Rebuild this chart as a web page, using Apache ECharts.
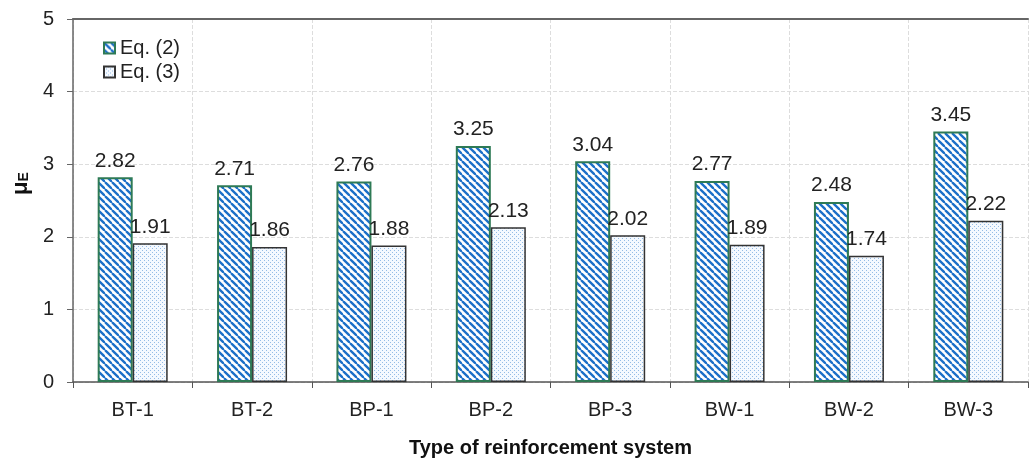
<!DOCTYPE html>
<html>
<head>
<meta charset="utf-8">
<script src="https://cdn.jsdelivr.net/npm/echarts@6/dist/echarts.min.js"></script>
<style>html,body{margin:0;padding:0;background:#fff}#c{width:1029px;height:459px}</style>
</head>
<body>
<div id="c"></div>
<script>
const categories = ['BT-1','BT-2','BP-1','BP-2','BP-3','BW-1','BW-2','BW-3'];
const eq2Values = [2.82,2.71,2.76,3.25,3.04,2.77,2.48,3.45];
const eq3Values = [1.91,1.86,1.88,2.13,2.02,1.89,1.74,2.22];
const seriesNames = ['Eq. (2)','Eq. (3)'];
const yTicks = [0,1,2,3,4,5];

function hatchPattern(){
  const s=7, c=document.createElement('canvas');
  c.width=s; c.height=s;
  const g=c.getContext('2d');
  g.fillStyle='#ffffff'; g.fillRect(0,0,s,s);
  g.strokeStyle='#1b6fc8'; g.lineWidth=2.3;
  for(const o of [-s,0,s]){ g.beginPath(); g.moveTo(o,0); g.lineTo(o+s,s); g.stroke(); }
  return c;
}
function dotPattern(){
  const s=4, c=document.createElement('canvas');
  c.width=s; c.height=s;
  const g=c.getContext('2d');
  g.fillStyle='#f4f9ff'; g.fillRect(0,0,s,s);
  g.fillStyle='#94bce6';
  g.fillRect(0,0,1,1); g.fillRect(2,2,1,1);
  return c;
}
const font = "'Liberation Sans', Arial, sans-serif";
const chart = echarts.init(document.getElementById('c'));
chart.setOption({
  animation:false,
  textStyle:{fontFamily:font},
  grid:{left:73, top:19, width:955, height:363, outerBoundsMode:'none', containLabel:false},
  legend:{
    orient:'vertical', left:98, top:33, itemWidth:11, itemHeight:11, itemGap:4, icon:'rect',
    textStyle:{fontSize:20, color:'#222', fontFamily:font},
    data:seriesNames
  },
  xAxis:[{
    type:'category', data:categories, position:'bottom',
    axisLine:{lineStyle:{color:'#555', width:1.5}},
    axisTick:{show:true, length:6, lineStyle:{color:'#555'}},
    axisLabel:{fontSize:20, color:'#222', margin:18, fontFamily:font},
    splitLine:{show:true, interval:0, lineStyle:{color:'#ddd', type:'dashed'}},
    name:'Type of reinforcement system', nameLocation:'middle', nameGap:56,
    nameTextStyle:{fontSize:20, fontWeight:'bold', color:'#111', fontFamily:font}
  },{
    type:'category', data:categories, position:'top',
    axisLine:{show:true, lineStyle:{color:'#666', width:2}},
    axisTick:{show:false}, axisLabel:{show:false}, splitLine:{show:false}
  }],
  yAxis:{
    type:'value', min:yTicks[0], max:yTicks[yTicks.length-1], interval:1,
    axisLine:{show:true, lineStyle:{color:'#666', width:1.5}},
    axisTick:{show:true, length:6, lineStyle:{color:'#666'}},
    axisLabel:{fontSize:20, color:'#222', margin:19, fontFamily:font},
    splitLine:{show:true, lineStyle:{color:'#ddd', type:'dashed'}}
  },
  graphic:[{
    type:'text', x:10, y:195, rotation:Math.PI/2,
    style:{
      text:'{a|μ}{b|E}', fill:'#111',
      rich:{a:{fontSize:22, fontWeight:'bold', fontFamily:font}, b:{fontSize:14, fontWeight:'bold', fontFamily:font, padding:[7,0,0,0]}}
    }
  }],
  series:[{
    name:seriesNames[0], type:'bar', data:eq2Values, barWidth:35, barGap:'0%',
    itemStyle:{color:{image:hatchPattern(), repeat:'repeat'}, borderColor:'#2e7a55', borderWidth:2},
    label:{show:true, position:'top', distance:6, fontSize:21, color:'#222', fontFamily:font, formatter:p=>p.value.toFixed(2)}
  },{
    name:seriesNames[1], type:'bar', data:eq3Values, barWidth:35,
    itemStyle:{color:{image:dotPattern(), repeat:'repeat'}, borderColor:'#333', borderWidth:1.5},
    label:{show:true, position:'top', distance:6, fontSize:21, color:'#222', fontFamily:font, formatter:p=>p.value.toFixed(2)}
  }]
});
</script>
</body>
</html>
